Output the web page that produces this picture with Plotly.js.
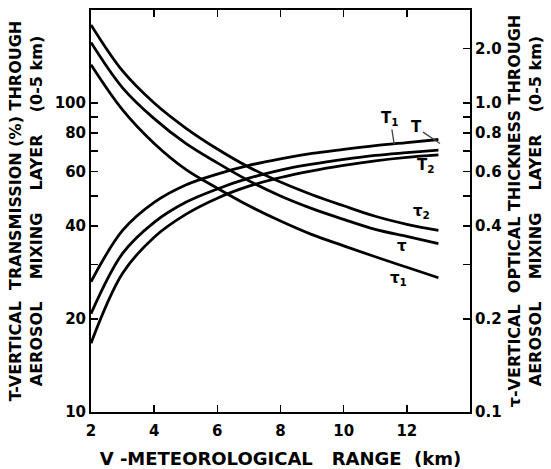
<!DOCTYPE html>
<html>
<head>
<meta charset="utf-8">
<script src="https://cdn.plot.ly/plotly-3.0.1.min.js"></script>
<style>html,body{margin:0;padding:0;background:#fff;}#chart{width:551px;height:469px;}</style>
</head>
<body>
<div id="chart"></div>
<script>
// Meteorological range V (km)
var rangeKm = [2, 3, 4, 5, 6, 7, 8, 9, 10, 11, 12, 13];
// Vertical transmission (%) through aerosol mixing layer
var transT1 = [26.4, 38.7, 47.7, 54.3, 58.9, 62.8, 66.0, 68.7, 70.8, 72.8, 74.5, 76.2];
var transT  = [20.8, 32.6, 41.1, 47.7, 52.7, 57.1, 60.7, 63.4, 65.7, 67.7, 69.1, 70.4];
var transT2 = [16.7, 28.1, 36.8, 43.6, 49.2, 53.8, 57.4, 60.3, 62.8, 65.0, 66.7, 67.9];
// Vertical optical thickness through aerosol mixing layer
var tau1 = [1.33, 0.95, 0.74, 0.61, 0.53, 0.465, 0.415, 0.375, 0.345, 0.318, 0.294, 0.272];
var tau  = [1.57, 1.12, 0.89, 0.74, 0.64, 0.56, 0.50, 0.455, 0.42, 0.39, 0.37, 0.351];
var tau2 = [1.79, 1.27, 1.00, 0.83, 0.71, 0.62, 0.555, 0.505, 0.465, 0.43, 0.405, 0.387];
// Tick labels
var xTickVals = [2, 4, 6, 8, 10, 12];
var leftTickVals = [10, 20, 30, 40, 50, 60, 70, 80, 90, 100];
var leftTickText = ['10', '20', '', '40', '', '60', '', '80', '', '100'];
// the original figure draws its "2.0" tick where 1.5 falls on the log scale
var rightTickVals = [0.1, 0.2, 0.3, 0.4, 0.5, 0.6, 0.7, 0.8, 0.9, 1.0, 1.5];
var rightTickText = ['0.1', '0.2', '', '0.4', '', '0.6', '', '0.8', '', '1.0', '2.0'];

var LINE = {color: '#000', width: 2.8, shape: 'spline', smoothing: 1};
function tr(y, name, axis) {
  return {x: rangeKm, y: y, name: name, type: 'scatter', mode: 'lines',
          line: LINE, yaxis: axis, hoverinfo: 'skip'};
}
var data = [
  tr(transT1, 'T1', 'y'), tr(transT, 'T', 'y'), tr(transT2, 'T2', 'y'),
  tr(tau1, 'τ1', 'y2'), tr(tau, 'τ', 'y2'), tr(tau2, 'τ2', 'y2')
];

var FAM = 'DejaVu Sans, Liberation Sans, sans-serif';
var FONT = {family: FAM, size: 15, color: '#000', weight: 'bold'};
var TFONT = {family: FAM, size: 16, color: '#000', weight: 'bold'};
var yLog = [1, Math.log10(200)];
var L = Math.log10;
var S = '\u00a0';

var layout = {
  width: 551, height: 469,
  margin: {l: 91, r: 81, t: 10, b: 57},
  paper_bgcolor: '#fff', plot_bgcolor: '#fff',
  showlegend: false,
  font: FONT,
  xaxis: {
    range: [2, 14], tickvals: xTickVals, ticks: 'inside', ticklen: 7, tickwidth: 1.5,
    tickcolor: '#000', showline: true, linecolor: '#000', linewidth: 2, mirror: 'ticks',
    showgrid: false, zeroline: false, tickfont: FONT, ticklabelstandoff: 4,
    title: {text: 'V' + S + '-METEOROLOGICAL' + S + S + S + 'RANGE' + S + S + '(km)', font: {family: FAM, size: 18, color: '#000', weight: 'bold'}, standoff: 13}
  },
  yaxis: {
    type: 'log', range: yLog, tickvals: leftTickVals, ticktext: leftTickText,
    ticks: 'inside', ticklen: 7, tickwidth: 1.5, tickcolor: '#000',
    showline: true, linecolor: '#000', linewidth: 2, showgrid: false, zeroline: false,
    tickfont: FONT,
    title: {text: 'T-VERTICAL' + S + S + 'TRANSMISSION' + S + '(%)' + S + 'THROUGH<br>AEROSOL' + S + S + S + S + 'MIXING' + S + S + S + S + 'LAYER' + S + S + S + S + '(0-5' + S + 'km)', font: TFONT, standoff: 8}
  },
  yaxis2: {
    type: 'log', range: [yLog[0] - 2, yLog[1] - 2], overlaying: 'y', side: 'right',
    tickvals: rightTickVals, ticktext: rightTickText,
    ticks: 'inside', ticklen: 7, tickwidth: 1.5, tickcolor: '#000',
    showline: true, linecolor: '#000', linewidth: 2, showgrid: false, zeroline: false,
    tickfont: FONT,
    title: {text: 'τ-VERTICAL' + S + S + 'OPTICAL' + S + 'THICKNESS' + S + 'THROUGH<br>AEROSOL' + S + S + S + S + 'MIXING' + S + S + S + S + 'LAYER' + S + S + S + S + '(0-5' + S + 'km)', font: TFONT, standoff: 8}
  },
  shapes: [
    {type: 'line', xref: 'paper', yref: 'y', x0: 0, x1: 0.06, y0: 2, y1: 2, line: {color: '#000', width: 1.8}},
    {type: 'line', xref: 'paper', yref: 'y', x0: 0.94, x1: 1, y0: 2, y1: 2, line: {color: '#000', width: 1.8}}
  ],
  annotations: [
    {x: 11.6, y: L(73.5), text: 'T<sub>1</sub>', xref: 'x', yref: 'y', showarrow: true, arrowhead: 0, arrowwidth: 1.3, standoff: 0, ax: -4, ay: -26, font: FONT},
    {x: 13.05, y: L(74), text: 'T', xref: 'x', yref: 'y', showarrow: true, arrowhead: 0, arrowwidth: 1.3, standoff: 0, ax: -24, ay: -16, font: FONT},
    {x: 12.6, y: L(63), text: 'T<sub>2</sub>', xref: 'x', yref: 'y', showarrow: false, font: FONT},
    {x: 12.45, y: L(44.4), text: 'τ<sub>2</sub>', xref: 'x', yref: 'y', showarrow: false, font: FONT},
    {x: 11.85, y: L(34.5), text: 'τ', xref: 'x', yref: 'y', showarrow: false, font: FONT},
    {x: 11.75, y: L(27), text: 'τ<sub>1</sub>', xref: 'x', yref: 'y', showarrow: false, font: FONT}
  ]
};
Plotly.newPlot('chart', data, layout, {staticPlot: true, displayModeBar: false});
</script>
</body>
</html>
